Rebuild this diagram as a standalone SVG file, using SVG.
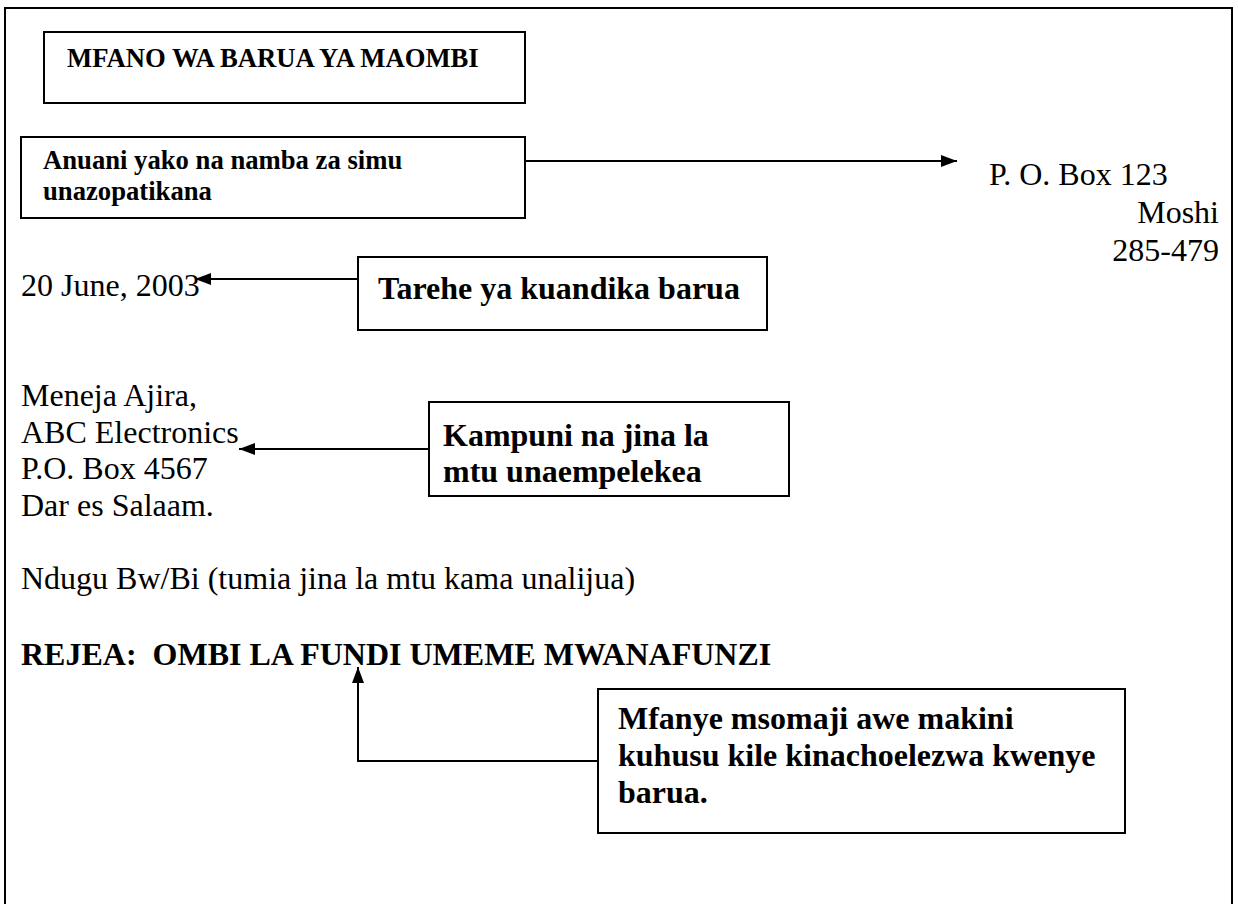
<svg xmlns="http://www.w3.org/2000/svg" width="1238" height="904" viewBox="0 0 1238 904">
  <style>
    .t { font-family: "Liberation Serif", "Times New Roman", serif; font-size: 32px; fill: #000; }
    .b { font-weight: bold; }
    .s { font-size: 26.67px; }
    .box { fill: #fff; stroke: #000; stroke-width: 2; }
    .c { fill: none; stroke: #000; stroke-width: 2; }
  </style>
  <defs>
    <marker id="ah" markerUnits="userSpaceOnUse" markerWidth="18" markerHeight="14" refX="16" refY="6" orient="auto">
      <path d="M0,0 L16,6 L0,12 Z" fill="#000"/>
    </marker>
  </defs>
  <rect id="page" x="5" y="8" width="1227" height="930" fill="#fff" stroke="#000" stroke-width="2"/>

  <g id="title">
    <rect class="box" x="44" y="32" width="481" height="71"/>
    <text class="t b s" x="67" y="67">MFANO WA BARUA YA MAOMBI</text>
  </g>

  <g id="anuani">
    <rect class="box" x="21" y="137" width="504" height="81"/>
    <text class="t b s" x="43" y="169">Anuani yako na namba za simu</text>
    <text class="t b s" x="43" y="200">unazopatikana</text>
  </g>

  <g id="sender-address">
    <text class="t" x="989" y="185">P. O. Box 123</text>
    <text class="t" x="1219" y="223" text-anchor="end">Moshi</text>
    <text class="t" x="1219" y="261" text-anchor="end">285-479</text>
  </g>

  <g id="date">
    <text class="t" x="21" y="296">20 June, 2003</text>
  </g>

  <g id="tarehe">
    <rect class="box" x="358" y="257" width="409" height="73"/>
    <text class="t b" x="378" y="299">Tarehe ya kuandika barua</text>
  </g>

  <g id="recipient">
    <text class="t" x="21" y="406">Meneja Ajira,</text>
    <text class="t" x="21" y="443">ABC Electronics</text>
    <text class="t" x="21" y="479">P.O. Box 4567</text>
    <text class="t" x="21" y="516">Dar es Salaam.</text>
  </g>

  <g id="kampuni">
    <rect class="box" x="429" y="402" width="360" height="94"/>
    <text class="t b" x="443" y="446">Kampuni na jina la</text>
    <text class="t b" x="443" y="482">mtu unaempelekea</text>
  </g>

  <g id="salutation">
    <text class="t" x="21" y="589">Ndugu Bw/Bi (tumia jina la mtu kama unalijua)</text>
  </g>

  <g id="rejea">
    <text class="t b" x="21" y="665" xml:space="preserve">REJEA:  OMBI LA FUNDI UMEME MWANAFUNZI</text>
  </g>

  <g id="mfanye">
    <rect class="box" x="598" y="689" width="527" height="144"/>
    <text class="t b" x="618" y="729">Mfanye msomaji awe makini</text>
    <text class="t b" x="618" y="766">kuhusu kile kinachoelezwa kwenye</text>
    <text class="t b" x="618" y="803">barua.</text>
  </g>

  <g id="connectors">
    <path class="c" d="M525,161 H957" marker-end="url(#ah)"/>
    <path class="c" d="M358,279 H195" marker-end="url(#ah)"/>
    <path class="c" d="M429,449 H239" marker-end="url(#ah)"/>
    <path class="c" d="M598,761 H358 V667" marker-end="url(#ah)"/>
  </g>
</svg>
